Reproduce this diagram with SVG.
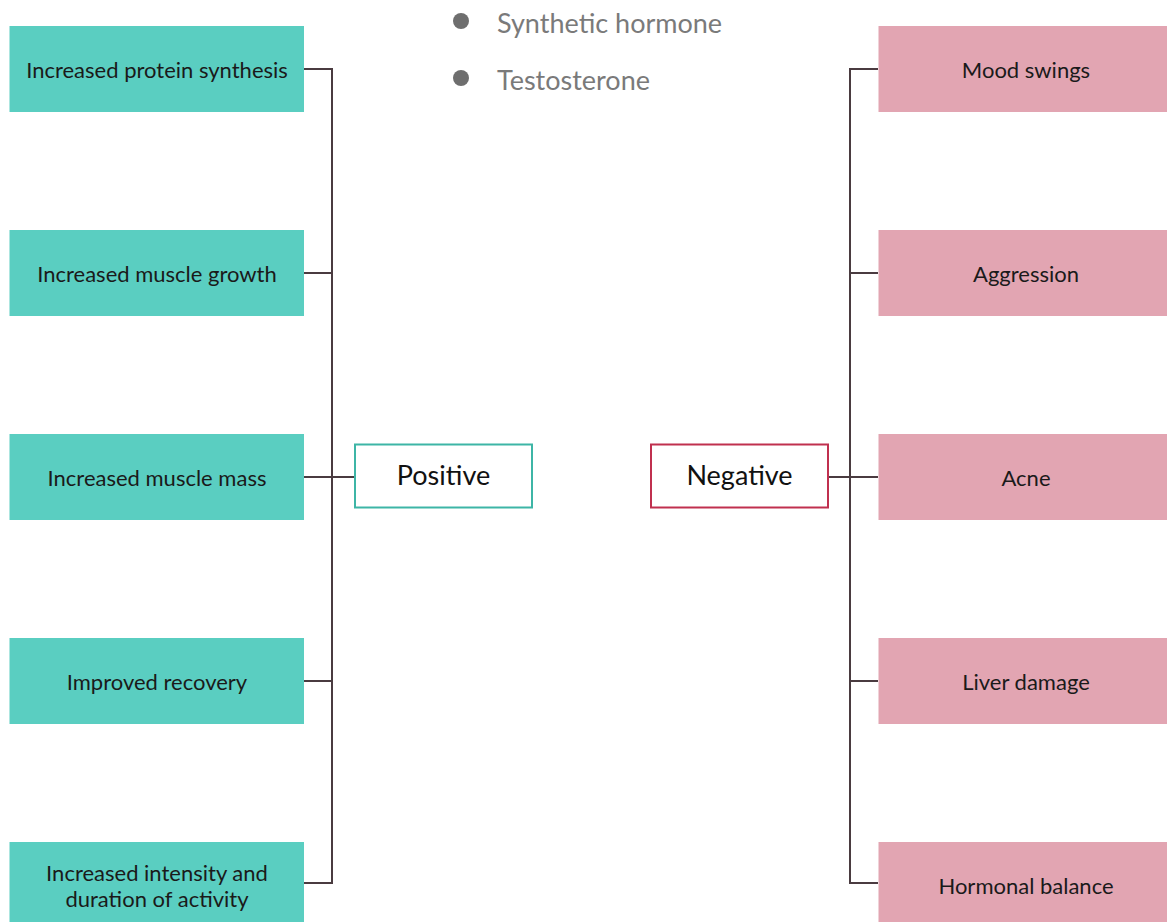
<svg xmlns="http://www.w3.org/2000/svg" width="1167" height="922" viewBox="0 0 1167 922">
<style>
.pos{fill:#5acec1}
.neg{fill:#e2a5b2}
.t{font-family:Lato,"Open Sans",sans-serif;font-size:22px;fill:#1a1a1a;text-anchor:middle}
.h{font-family:Lato,"Open Sans",sans-serif;font-size:27px;fill:#111;text-anchor:middle}
.lg{font-family:Lato,"Open Sans",sans-serif;font-size:27px;fill:#7a7a7a}
.c{fill:none;stroke:#4a3b40;stroke-width:2}
</style>
<rect width="1167" height="922" fill="#fff"/>
<g id="legend">
<circle cx="461" cy="21" r="8" fill="#6e6e6e"/>
<text class="lg" x="497" y="33">Synthetic hormone</text>
<circle cx="461" cy="78" r="8" fill="#6e6e6e"/>
<text class="lg" x="497" y="90">Testosterone</text>
</g>
<g id="connectors">
<path class="c" d="M304 69H332V883H304M304 273H332M304 477H355M304 681H332"/>
<path class="c" d="M878 69H850V883H878M878 273H850M828 477H878M878 681H850"/>
</g>
<g id="positive"><rect x="355" y="444.5" width="177" height="63" fill="#fff" stroke="#3db5a6" stroke-width="2"/><text class="h" x="443.5" y="485">Positive</text></g>
<g id="negative"><rect x="651" y="444.5" width="177" height="63" fill="#fff" stroke="#c0304f" stroke-width="2"/><text class="h" x="739.5" y="485">Negative</text></g>
<g id="p1"><rect class="pos" x="9.5" y="26" width="294.5" height="86"/><text class="t" x="157" y="78">Increased protein synthesis</text></g>
<g id="p2"><rect class="pos" x="9.5" y="230" width="294.5" height="86"/><text class="t" x="157" y="282">Increased muscle growth</text></g>
<g id="p3"><rect class="pos" x="9.5" y="434" width="294.5" height="86"/><text class="t" x="157" y="486">Increased muscle mass</text></g>
<g id="p4"><rect class="pos" x="9.5" y="638" width="294.5" height="86"/><text class="t" x="157" y="690">Improved recovery</text></g>
<g id="p5"><rect class="pos" x="9.5" y="842" width="294.5" height="86"/><text class="t" x="157" y="881">Increased intensity and</text><text class="t" x="157" y="907">duration of activity</text></g>
<g id="n1"><rect class="neg" x="878.5" y="26" width="294" height="86"/><text class="t" x="1026" y="78">Mood swings</text></g>
<g id="n2"><rect class="neg" x="878.5" y="230" width="294" height="86"/><text class="t" x="1026" y="282">Aggression</text></g>
<g id="n3"><rect class="neg" x="878.5" y="434" width="294" height="86"/><text class="t" x="1026" y="486">Acne</text></g>
<g id="n4"><rect class="neg" x="878.5" y="638" width="294" height="86"/><text class="t" x="1026" y="690">Liver damage</text></g>
<g id="n5"><rect class="neg" x="878.5" y="842" width="294" height="86"/><text class="t" x="1026" y="894">Hormonal balance</text></g>
</svg>
